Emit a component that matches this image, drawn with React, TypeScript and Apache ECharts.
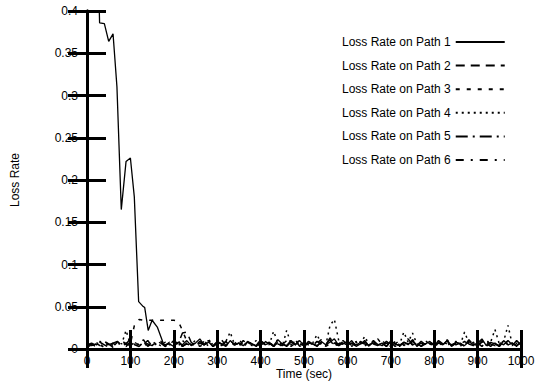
import React, { useEffect, useRef } from "react";
import * as echarts from "echarts";

const SAMPLE_TIMES: number[] = Array.from({ length: 101 }, (_, i) => i * 10);

const PATH1_EARLY_TIMES = [0, 10, 20, 27, 29, 40, 50, 60, 69, 79, 90, 100, 109, 119, 128, 133, 141, 150, 162, 177];
const PATH1_EARLY_VALUES = [0.5, 0.46, 0.44, 0.43, 0.386, 0.385, 0.364, 0.373, 0.31, 0.165, 0.222, 0.226, 0.18, 0.056, 0.051, 0.049, 0.022, 0.034, 0.026, 0.005];
// path 1 from t = 190 to 1000, every 10 s
const PATH1_LATE_VALUES = [
  0.006, 0.003, 0.008, 0.005, 0.010, 0.004, 0.007, 0.012, 0.005, 0.008,
  0.004, 0.009, 0.006, 0.003, 0.010, 0.005, 0.007, 0.004, 0.008, 0.006,
  0.003, 0.009, 0.005, 0.007, 0.004, 0.011, 0.006, 0.003, 0.008, 0.005,
  0.010, 0.004, 0.007, 0.006, 0.003, 0.009, 0.005, 0.008, 0.012, 0.004,
  0.007, 0.005, 0.010, 0.003, 0.006, 0.008, 0.004, 0.009, 0.005, 0.007,
  0.003, 0.010, 0.006, 0.004, 0.008, 0.005, 0.011, 0.003, 0.007, 0.006,
  0.009, 0.004, 0.007, 0.005, 0.010, 0.003, 0.008, 0.006, 0.004, 0.009,
  0.005, 0.007, 0.012, 0.004, 0.008, 0.006, 0.003, 0.010, 0.005, 0.007,
  0.004, 0.008,
];

const PATH2_VALUES = [
  0.004, 0.006, 0.003, 0.008, 0.005, 0.002, 0.007, 0.009, 0.004, 0.006,
  0.012, 0.005, 0.003, 0.008, 0.006, 0.004, 0.009, 0.007, 0.003, 0.005,
  0.010, 0.006, 0.019, 0.020, 0.008, 0.004, 0.007, 0.005, 0.009, 0.003,
  0.006, 0.011, 0.004, 0.008, 0.005, 0.007, 0.003, 0.009, 0.006, 0.004,
  0.010, 0.005, 0.008, 0.003, 0.007, 0.006, 0.004, 0.009, 0.005, 0.011,
  0.003, 0.007, 0.006, 0.004, 0.008, 0.005, 0.013, 0.006, 0.004, 0.009,
  0.005, 0.007, 0.003, 0.008, 0.006, 0.004, 0.010, 0.005, 0.007, 0.003,
  0.009, 0.006, 0.004, 0.008, 0.012, 0.005, 0.007, 0.003, 0.006, 0.009,
  0.004, 0.007, 0.005, 0.010, 0.003, 0.008, 0.006, 0.004, 0.011, 0.005,
  0.007, 0.003, 0.009, 0.006, 0.004, 0.008, 0.005, 0.010, 0.006, 0.004,
  0.007,
];

const PATH3_VALUES = [
  0.002, 0.005, 0.007, 0.004, 0.009, 0.006, 0.003, 0.008, 0.005, 0.007,
  0.006, 0.030, 0.035, 0.034, 0.034, 0.034, 0.035, 0.034, 0.034, 0.034,
  0.034, 0.033, 0.022, 0.009, 0.005, 0.008, 0.003, 0.006, 0.010, 0.004,
  0.007, 0.005, 0.009, 0.003, 0.006, 0.012, 0.004, 0.008, 0.005, 0.007,
  0.003, 0.009, 0.006, 0.004, 0.008, 0.005, 0.010, 0.003, 0.007, 0.006,
  0.004, 0.009, 0.005, 0.007, 0.011, 0.003, 0.006, 0.008, 0.004, 0.010,
  0.005, 0.007, 0.003, 0.009, 0.006, 0.004, 0.008, 0.012, 0.005, 0.007,
  0.003, 0.006, 0.010, 0.004, 0.008, 0.005, 0.007, 0.003, 0.009, 0.006,
  0.004, 0.008, 0.005, 0.011, 0.003, 0.007, 0.006, 0.009, 0.004, 0.008,
  0.005, 0.010, 0.003, 0.007, 0.006, 0.004, 0.009, 0.005, 0.008, 0.003,
  0.006,
];

const PATH4_VALUES = [
  0.006, 0.003, 0.008, 0.005, 0.002, 0.007, 0.004, 0.009, 0.006, 0.022,
  0.005, 0.008, 0.004, 0.007, 0.003, 0.009, 0.006, 0.004, 0.008, 0.005,
  0.007, 0.003, 0.010, 0.006, 0.004, 0.008, 0.005, 0.009, 0.003, 0.007,
  0.006, 0.004, 0.009, 0.020, 0.005, 0.008, 0.003, 0.007, 0.006, 0.010,
  0.004, 0.008, 0.005, 0.021, 0.007, 0.003, 0.022, 0.006, 0.009, 0.004,
  0.008, 0.005, 0.007, 0.017, 0.006, 0.004, 0.028, 0.035, 0.010, 0.005,
  0.007, 0.003, 0.009, 0.006, 0.015, 0.005, 0.008, 0.004, 0.007, 0.006,
  0.003, 0.009, 0.005, 0.020, 0.008, 0.019, 0.006, 0.004, 0.010, 0.005,
  0.007, 0.003, 0.008, 0.006, 0.004, 0.009, 0.005, 0.020, 0.007, 0.006,
  0.004, 0.010, 0.005, 0.008, 0.023, 0.006, 0.009, 0.028, 0.005, 0.007,
  0.004,
];

const PATH5_VALUES = [
  0.008, 0.004, 0.006, 0.002, 0.009, 0.005, 0.007, 0.003, 0.010, 0.006,
  0.004, 0.008, 0.005, 0.011, 0.003, 0.007, 0.006, 0.009, 0.004, 0.008,
  0.005, 0.010, 0.003, 0.007, 0.006, 0.004, 0.009, 0.005, 0.012, 0.003,
  0.008, 0.006, 0.004, 0.010, 0.005, 0.007, 0.003, 0.009, 0.006, 0.004,
  0.011, 0.005, 0.007, 0.003, 0.008, 0.006, 0.004, 0.010, 0.005, 0.007,
  0.003, 0.009, 0.006, 0.004, 0.008, 0.005, 0.011, 0.003, 0.007, 0.006,
  0.009, 0.004, 0.008, 0.005, 0.010, 0.003, 0.007, 0.006, 0.004, 0.009,
  0.005, 0.007, 0.003, 0.008, 0.006, 0.011, 0.004, 0.009, 0.005, 0.007,
  0.003, 0.010, 0.006, 0.004, 0.008, 0.005, 0.007, 0.003, 0.009, 0.006,
  0.004, 0.008, 0.011, 0.005, 0.007, 0.003, 0.009, 0.006, 0.004, 0.010,
  0.005,
];

const PATH6_VALUES = [
  0.003, 0.007, 0.005, 0.009, 0.004, 0.006, 0.002, 0.008, 0.005, 0.003,
  0.009, 0.004, 0.007, 0.005, 0.010, 0.003, 0.006, 0.008, 0.004, 0.007,
  0.005, 0.009, 0.003, 0.006, 0.004, 0.011, 0.007, 0.005, 0.008, 0.003,
  0.006, 0.004, 0.009, 0.005, 0.007, 0.003, 0.010, 0.006, 0.004, 0.008,
  0.005, 0.007, 0.003, 0.009, 0.006, 0.004, 0.008, 0.005, 0.011, 0.003,
  0.007, 0.006, 0.004, 0.009, 0.005, 0.008, 0.003, 0.007, 0.006, 0.010,
  0.004, 0.008, 0.005, 0.007, 0.003, 0.009, 0.006, 0.004, 0.010, 0.005,
  0.008, 0.003, 0.007, 0.006, 0.004, 0.009, 0.005, 0.008, 0.003, 0.007,
  0.006, 0.010, 0.004, 0.008, 0.005, 0.007, 0.003, 0.009, 0.006, 0.004,
  0.009, 0.005, 0.007, 0.003, 0.008, 0.006, 0.004, 0.010, 0.005, 0.008,
  0.006,
];

const SERIES_NAMES = [
  "Loss Rate on Path 1",
  "Loss Rate on Path 2",
  "Loss Rate on Path 3",
  "Loss Rate on Path 4",
  "Loss Rate on Path 5",
  "Loss Rate on Path 6",
];

const X_TICKS_MAX = 1000;
const Y_TICKS_MAX = 0.4;

const FONT = "Liberation Sans, Arial, Helvetica, sans-serif";

export default function App() {
  const ref = useRef<HTMLDivElement>(null);
  useEffect(() => {
    document.body.style.margin = "0";
    if (!ref.current) return;
    const chart = echarts.init(ref.current, null, { renderer: "svg" });

    const path1Data: [number, number][] = [
      ...PATH1_EARLY_TIMES.map((t, i) => [t, PATH1_EARLY_VALUES[i]] as [number, number]),
      ...SAMPLE_TIMES.slice(19).map((t, i) => [t, PATH1_LATE_VALUES[i]] as [number, number]),
    ];
    const pair = (vals: number[]) => SAMPLE_TIMES.map((t, i) => [t, vals[i]]);

    const dashes: any[] = [
      "solid",
      [9, 6],
      [4, 7],
      [2, 4],
      [12, 5, 2, 5],
      [8, 7, 2, 7],
    ];
    const datasets = [
      path1Data,
      pair(PATH2_VALUES),
      pair(PATH3_VALUES),
      pair(PATH4_VALUES),
      pair(PATH5_VALUES),
      pair(PATH6_VALUES),
    ];

    const tickStyle = { show: true, inside: true, length: 19, lineStyle: { color: "#000", width: 3 } };
    const lineStyleAxis = { show: true, lineStyle: { color: "#000", width: 3 } };
    const labelStyle = { color: "#000", fontSize: 12, fontFamily: FONT };

    chart.setOption({
      animation: false,
      backgroundColor: "#fff",
      textStyle: { fontFamily: FONT },
      grid: { left: 87, right: 15, top: 11, bottom: 34, containLabel: false, outerBoundsMode: "none" },
      legend: {
        orient: "vertical",
        left: 337,
        top: 31,
        align: "right",
        itemWidth: 49,
        itemHeight: 14,
        itemGap: 11.6,
        itemStyle: { opacity: 0 },
        textStyle: { color: "#000", fontSize: 12, fontFamily: FONT },
        data: SERIES_NAMES,
      },
      xAxis: [
        {
          type: "value",
          position: "bottom",
          min: 0,
          max: X_TICKS_MAX,
          interval: 100,
          name: "Time (sec)",
          nameLocation: "middle",
          nameGap: 19,
          nameMoveOverlap: false,
          nameTextStyle: labelStyle,
          axisLine: lineStyleAxis,
          axisTick: tickStyle,
          axisLabel: { ...labelStyle, margin: 6, formatter: (v: number) => String(v) },
          splitLine: { show: false },
        },
        {
          type: "value",
          position: "top",
          min: 0,
          max: X_TICKS_MAX,
          interval: 100,
          axisLine: lineStyleAxis,
          axisTick: tickStyle,
          axisLabel: { show: false },
          splitLine: { show: false },
        },
      ],
      yAxis: [
        {
          type: "value",
          position: "left",
          min: 0,
          max: Y_TICKS_MAX,
          interval: 0.05,
          name: "Loss Rate",
          nameLocation: "middle",
          nameGap: 66,
          nameMoveOverlap: false,
          nameTextStyle: labelStyle,
          axisLine: lineStyleAxis,
          axisTick: tickStyle,
          axisLabel: { ...labelStyle, margin: 9 },
          splitLine: { show: false },
        },
        {
          type: "value",
          position: "right",
          min: 0,
          max: Y_TICKS_MAX,
          interval: 0.05,
          axisLine: lineStyleAxis,
          axisTick: tickStyle,
          axisLabel: { show: false },
          splitLine: { show: false },
        },
      ],
      series: SERIES_NAMES.map((name, i) => ({
        name,
        type: "line",
        xAxisIndex: 0,
        yAxisIndex: 0,
        data: datasets[i],
        symbol: "none",
        showSymbol: false,
        clip: true,
        lineStyle: { color: "#000", width: i === 0 ? 1.3 : 1.5, type: dashes[i] },
        itemStyle: { color: "#000" },
      })),
    });
    return () => chart.dispose();
  }, []);
  return <div ref={ref} style={{ width: 536, height: 383 }} />;
}
